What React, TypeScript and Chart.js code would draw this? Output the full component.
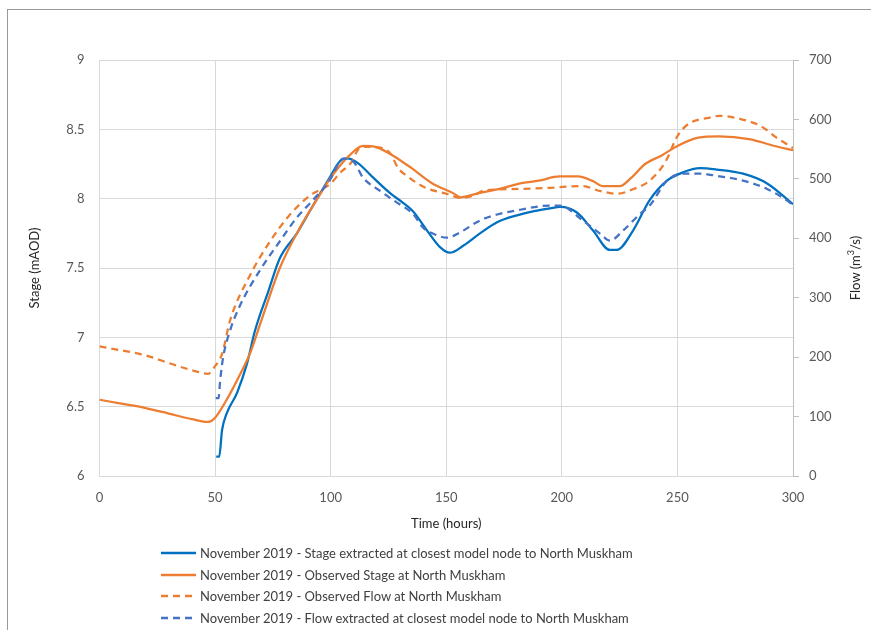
import React, { useEffect, useRef } from "react";
import { Chart, registerables } from "chart.js";

Chart.register(...registerables);

// Stage extracted at closest model node (mAOD)
const stageModelT = [50.5, 51.8, 53, 55, 59.5, 63.8, 67.3, 73, 78, 85.4, 92, 99.5, 104, 107, 111.5, 118.5, 125.7, 131.3, 135.6, 141.7, 147.3, 151.6, 157.3, 164.6, 172, 180.6, 188, 194.9, 199.2, 206.5, 213.5, 220.8, 223.8, 230.8, 238, 245.5, 252.4, 259.8, 267, 278.4, 288.8, 300];
const stageModelV = [6.14, 6.14, 6.33, 6.45, 6.6, 6.81, 7.05, 7.33, 7.57, 7.75, 7.94, 8.15, 8.27, 8.29, 8.26, 8.15, 8.04, 7.97, 7.91, 7.77, 7.65, 7.61, 7.66, 7.75, 7.83, 7.88, 7.91, 7.93, 7.94, 7.9, 7.77, 7.63, 7.63, 7.77, 7.99, 8.13, 8.19, 8.22, 8.21, 8.18, 8.11, 7.96];

// Observed stage at North Muskham (mAOD)
const stageObsT = [0, 10, 20, 30, 40, 47, 50, 55, 61, 65, 70, 78, 87, 95, 100, 108, 114, 120, 127, 135, 144, 153, 156, 164, 173, 182, 190, 199, 207, 213, 218, 225, 230, 236, 243, 250, 259, 268, 281, 292, 300];
const stageObsV = [6.55, 6.52, 6.49, 6.45, 6.41, 6.39, 6.42, 6.55, 6.74, 6.88, 7.12, 7.5, 7.8, 8.02, 8.15, 8.31, 8.38, 8.37, 8.31, 8.22, 8.11, 8.04, 8.01, 8.04, 8.07, 8.11, 8.13, 8.16, 8.16, 8.13, 8.09, 8.09, 8.15, 8.25, 8.31, 8.38, 8.44, 8.45, 8.43, 8.38, 8.35];

// Observed flow at North Muskham (m3/s)
const flowObsT = [0, 10, 20, 30, 40, 47, 50, 53, 56.5, 65, 74, 82, 91, 100, 104, 109, 112, 115, 122, 126, 129, 133, 141, 150, 156, 162, 166, 181, 195, 209, 216, 224, 231, 238, 245, 250, 255, 264, 268, 277, 286, 293, 300];
const flowObsV = [218, 211, 203, 190, 178, 172, 185, 205, 262, 337, 396, 438, 472, 492, 510, 528, 550, 554, 552, 542, 519, 505, 485, 475, 468, 472, 480, 483, 485, 488, 480, 475, 483, 497, 530, 572, 593, 603, 606, 601, 589, 569, 552];

// Flow extracted at closest model node (m3/s)
const flowModelT = [50.3, 51.5, 52.2, 53.5, 56.5, 60.8, 69.4, 78, 85.4, 92, 99.5, 104, 105.3, 109.6, 114, 121.3, 128.7, 135.6, 140, 146, 150.3, 156, 164.6, 172, 180.6, 194.9, 199.2, 209, 216.5, 220.8, 226.5, 233.8, 238, 245.5, 252.4, 259.8, 267, 278.4, 288.8, 298.6, 300];
const flowModelV = [131, 131, 161, 200, 245, 287, 346, 395, 435, 463, 497, 530, 534, 530, 502, 480, 460, 441, 418, 405, 401, 410, 430, 440, 447, 455, 455, 430, 408, 396, 413, 441, 455, 497, 509, 509, 505, 497, 483, 460, 455];

const legendLabels = [
  "November 2019 - Stage extracted at closest model node to North Muskham",
  "November 2019 - Observed Stage at North Muskham",
  "November 2019 - Observed Flow at North Muskham",
  "November 2019 - Flow extracted at closest model node to North Muskham",
];
const colors = ["#0070C0", "#ED7D31", "#ED7D31", "#4472C4"];
const dashed = [false, false, true, true];

const FONT = "Lato, 'Liberation Sans', sans-serif";

const toPoints = (t: number[], v: number[]) => t.map((x, i) => ({ x, y: v[i] }));

export default function App() {
  const ref = useRef<HTMLCanvasElement | null>(null);

  useEffect(() => {
    if (!ref.current) return;
    const mk = (i: number, t: number[], v: number[], axis: string, order: number) => ({
      label: legendLabels[i],
      data: toPoints(t, v),
      yAxisID: axis,
      borderColor: colors[i],
      backgroundColor: colors[i],
      borderWidth: 2.25,
      borderDash: dashed[i] ? [7, 5] : [],
      pointRadius: 0,
      cubicInterpolationMode: "monotone" as const,
      fill: false,
      order,
    });
    const chart = new Chart(ref.current, {
      type: "line",
      data: {
        datasets: [
          mk(0, stageModelT, stageModelV, "y", 4),
          mk(1, stageObsT, stageObsV, "y", 3),
          mk(2, flowObsT, flowObsV, "y1", 2),
          mk(3, flowModelT, flowModelV, "y1", 1),
        ],
      },
      options: {
        responsive: false,
        animation: false,
        layout: { padding: { left: 27, right: 8, top: 60, bottom: 98 } },
        plugins: { legend: { display: false }, tooltip: { enabled: false } },
        scales: {
          x: {
            type: "linear",
            min: 0,
            max: 300,
            afterFit: (s: any) => {
              s.height = 56;
            },
            ticks: { stepSize: 50, color: "#595959", font: { family: FONT, size: 13 }, padding: 14, maxRotation: 0 },
            grid: { color: "#d9d9d9", drawTicks: false, lineWidth: 1 },
            border: { display: true, color: "#d9d9d9" },
            title: { display: true, text: "Time (hours)", color: "#262626", font: { family: FONT, size: 13 }, padding: 0 },
          },
          y: {
            type: "linear",
            position: "left",
            min: 6,
            max: 9,
            afterFit: (s: any) => {
              s.width = 72.5;
            },
            ticks: {
              stepSize: 0.5,
              color: "#595959",
              font: { family: FONT, size: 13 },
              padding: 15,
              callback: (v: any) => String(Math.round(Number(v) * 10) / 10),
            },
            grid: { color: "#d9d9d9", drawTicks: false },
            border: { display: true, color: "#d9d9d9" },
            title: { display: true, text: "Stage (mAOD)", color: "#262626", font: { family: FONT, size: 13 }, padding: 0 },
          },
          y1: {
            type: "linear",
            position: "right",
            min: 0,
            max: 700,
            afterFit: (s: any) => {
              s.width = 70;
            },
            ticks: { stepSize: 100, color: "#595959", font: { family: FONT, size: 13 }, padding: 10 },
            grid: { drawOnChartArea: false, drawTicks: true, tickLength: 6, color: "#bfbfbf" },
            border: { display: true, color: "#bfbfbf" },
            title: { display: false },
          },
        },
      },
    });
    return () => chart.destroy();
  }, []);

  return (
    <div style={{ position: "fixed", left: 0, top: 0, width: 871, height: 630, background: "#fff", overflow: "hidden" }}>
      <div
        style={{
          position: "absolute",
          left: 7,
          top: 9,
          width: 864,
          height: 621,
          borderTop: "1px solid #999",
          borderLeft: "1px solid #999",
          boxSizing: "border-box",
        }}
      />
      <canvas ref={ref} width={871} height={630} style={{ position: "absolute", left: 0, top: 0, width: 871, height: 630 }} />
      <div
        style={{
          position: "absolute",
          left: 855 - 60,
          top: 268 - 10,
          width: 120,
          height: 20,
          lineHeight: "20px",
          textAlign: "center",
          transform: "rotate(-90deg)",
          fontFamily: FONT,
          fontSize: 13,
          color: "#262626",
          whiteSpace: "nowrap",
        }}
      >
        Flow (m<sup style={{ fontSize: 9, verticalAlign: "6px", lineHeight: 0 }}>3</sup>/s)
      </div>
      {legendLabels.map((lbl, i) => (
        <div
          key={i}
          style={{
            position: "absolute",
            left: 160,
            top: 553 + i * 21.7 - 10,
            height: 20,
            display: "flex",
            alignItems: "center",
            whiteSpace: "nowrap",
          }}
        >
          <svg width={37} height={20} style={{ display: "block" }}>
            <line
              x1={1}
              y1={10}
              x2={36}
              y2={10}
              stroke={colors[i]}
              strokeWidth={2.5}
              strokeDasharray={dashed[i] ? "7 5" : undefined}
            />
          </svg>
          <span style={{ marginLeft: 3, fontFamily: FONT, fontSize: 13, color: "#404040", lineHeight: "20px" }}>{lbl}</span>
        </div>
      ))}
    </div>
  );
}
